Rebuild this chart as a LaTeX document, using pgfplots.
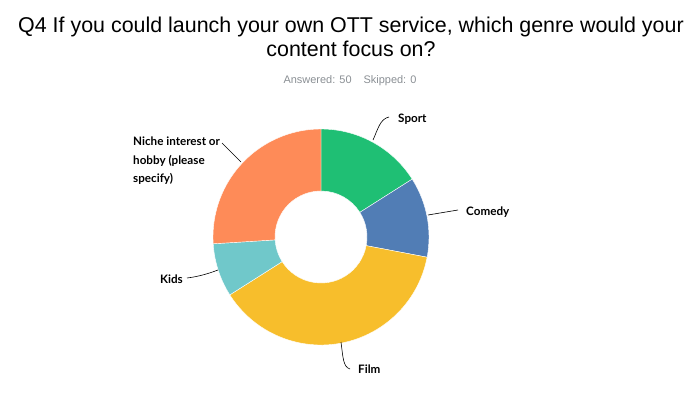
\documentclass[border=0pt]{standalone}
\usepackage{pgfplots}
\usepackage{pgfplotstable}
\pgfplotsset{compat=1.18}
\usepackage{fontspec}
\setmainfont{Liberation Sans}
\newfontfamily\labelfont{Lato}
\definecolor{cSport}{HTML}{1FBF74}
\definecolor{cComedy}{HTML}{517DB5}
\definecolor{cFilm}{HTML}{F7BE2C}
\definecolor{cKids}{HTML}{70C8CA}
\definecolor{cNiche}{HTML}{FE8B58}
\definecolor{subgray}{HTML}{8A8F94}

\pgfplotstableread{
idx genre count
0 Sport 8
1 Comedy 6
2 Film 19
3 Kids 4
4 Niche 13
}\datatable

\def\cx{321}\def\cy{160}\def\Ro{108}\def\Ri{46}
\newcommand{\donutwedge}[3]{%
  \fill[#1, draw=white, line width=0.4bp]
   (axis cs:{\cx+\Ro*cos(#2)},{\cy+\Ro*sin(#2)}) arc[start angle=#2, end angle=#3, radius=\Ro bp]
   -- (axis cs:{\cx+\Ri*cos(#3)},{\cy+\Ri*sin(#3)}) arc[start angle=#3, end angle=#2, radius=\Ri bp] -- cycle;}

\begin{document}
\begin{tikzpicture}
% cumulative angles (clockwise from 12 o'clock)
\xdef\total{0}
\foreach \i in {0,...,4}{\pgfplotstablegetelem{\i}{count}\of\datatable\xdef\total{\fpeval{\total+\pgfplotsretval}}}
\xdef\acc{0}
\foreach \i/\nm in {0/A,1/B,2/C,3/D,4/E}{%
  \pgfplotstablegetelem{\i}{count}\of\datatable
  \xdef\acc{\fpeval{\acc+\pgfplotsretval}}%
  \expandafter\xdef\csname angEnd\nm\endcsname{\fpeval{90-360*\acc/\total}}%
}
\begin{axis}[
  x=1bp, y=1bp, xmin=0, xmax=700, ymin=0, ymax=397,
  hide axis, clip=false, scale only axis,
]
\path (axis cs:0,0) rectangle (axis cs:700,397);
\donutwedge{cSport}{90}{\angEndA}
\donutwedge{cComedy}{\angEndA}{\angEndB}
\donutwedge{cFilm}{\angEndB}{\angEndC}
\donutwedge{cKids}{\angEndC}{\angEndD}
\donutwedge{cNiche}{\angEndD}{\angEndE}

% title
\node[anchor=center, font=\fontsize{21.5}{24}\selectfont, align=center] at (axis cs:351,360) {Q4 If you could launch your own OTT service, which genre would your\\content focus on?};
\node[anchor=center, font=\fontsize{11}{12}\selectfont, text=subgray] at (axis cs:350,316) {Answered: 50\hspace{12bp}Skipped: 0};

% leader lines
\draw[black, line width=0.6bp] (axis cs:373,257) .. controls (axis cs:378,268) and (axis cs:380,278) .. (axis cs:389,280);
\draw[black, line width=0.6bp] (axis cs:428,182) -- (axis cs:458,187);
\draw[black, line width=0.6bp] (axis cs:341,55) .. controls (axis cs:343,40) and (axis cs:343,30) .. (axis cs:350,28);
\draw[black, line width=0.6bp] (axis cs:218,127) .. controls (axis cs:205,122) and (axis cs:195,120) .. (axis cs:187,119);
\draw[black, line width=0.6bp] (axis cs:222,254) -- (axis cs:241,235);

% labels
\node[anchor=west, inner sep=0pt, font=\labelfont\bfseries\fontsize{11.7}{13}\selectfont] at (axis cs:398,278) {Sport};
\node[anchor=west, inner sep=0pt, font=\labelfont\bfseries\fontsize{11.7}{13}\selectfont] at (axis cs:466,185) {Comedy};
\node[anchor=west, inner sep=0pt, font=\labelfont\bfseries\fontsize{11.7}{13}\selectfont] at (axis cs:358,28) {Film};
\node[anchor=east, inner sep=0pt, font=\labelfont\bfseries\fontsize{11.7}{13}\selectfont] at (axis cs:183,118) {Kids};
\node[anchor=north west, inner sep=0pt, align=left, font=\labelfont\bfseries\fontsize{11.7}{18.5}\selectfont] at (axis cs:133,260) {Niche interest or\\hobby (please\\specify)};
\end{axis}
\end{tikzpicture}
\end{document}
